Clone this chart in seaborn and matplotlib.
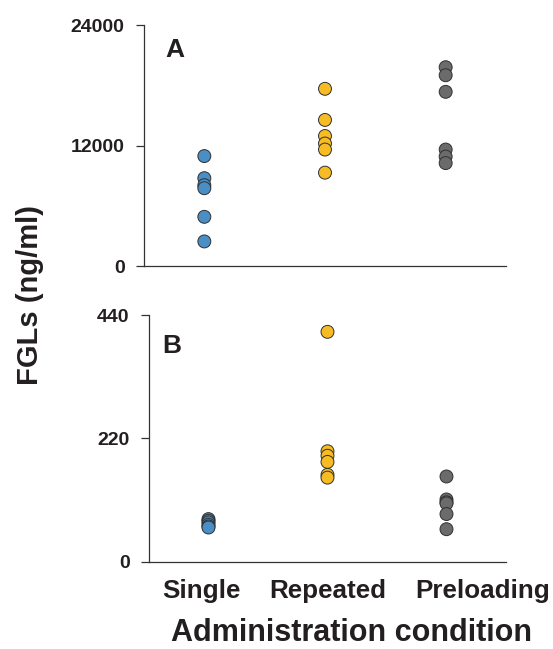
import pandas as pd
import seaborn as sns
import matplotlib.pyplot as plt
from matplotlib.transforms import ScaledTranslation

conditions = ['Single', 'Repeated', 'Preloading']
colors = ['#4a8ec6', '#f7bc23', '#6b6b6b']

# panel A (ng/ml)
single_a = [10950, 8750, 8050, 7750, 4900, 2450]
repeated_a = [17650, 14550, 12950, 12200, 11600, 9300]
preloading_a = [19800, 19000, 17350, 11600, 10900, 10250]

# panel B (ng/ml)
single_b = [76, 73, 70, 66, 63, 61]
repeated_b = [410, 197, 189, 178, 155, 150]
preloading_b = [152, 111, 106, 104, 85, 58]

yticks_a = [0, 12000, 24000]
yticks_b = [0, 220, 440]


def make_df(s, r, p):
    rows = []
    for cond, vals in zip(conditions, [s, r, p]):
        for v in vals:
            rows.append({'Condition': cond, 'FGL': v})
    return pd.DataFrame(rows)


df_a = make_df(single_a, repeated_a, preloading_a)
df_b = make_df(single_b, repeated_b, preloading_b)

sns.set_style('ticks')
plt.rcParams['font.family'] = ['Liberation Sans', 'DejaVu Sans']
plt.rcParams['font.weight'] = 'bold'
txt = '#231f20'

fig = plt.figure(figsize=(5.53, 6.49), dpi=100)
ax1 = fig.add_axes([0.2604, 0.5901, 0.6546, 0.3713])
ax2 = fig.add_axes([0.2694, 0.1345, 0.6456, 0.3801])

for ax, df, ticks in [(ax1, df_a, yticks_a), (ax2, df_b, yticks_b)]:
    sns.stripplot(data=df, x='Condition', y='FGL', hue='Condition', order=conditions,
                  hue_order=conditions, palette=colors, jitter=False, size=9.3,
                  linewidth=0.7, edgecolor='#303030', legend=False, ax=ax, zorder=3)
    ax.set_xlim(-0.5, 2.5)
    ax.set_ylim(ticks[0], ticks[-1])
    ax.set_yticks(ticks)
    ax.set_yticklabels([str(t) for t in ticks], fontsize=14, fontweight='bold', color=txt)
    ax.tick_params(axis='y', length=6, width=0.9, color='#333333', pad=8)
    ax.tick_params(axis='x', length=0)
    for s in ['top', 'right']:
        ax.spines[s].set_visible(False)
    for s in ['left', 'bottom']:
        ax.spines[s].set_linewidth(0.9)
        ax.spines[s].set_color('#333333')
    ax.set_xlabel('')
    ax.set_ylabel('')
    for c in ax.collections:
        c.set_clip_on(False)

ax1.set_xticklabels([])
ax2.set_xticks(range(3))
ax2.set_xticklabels(conditions, fontsize=18.7, fontweight='bold', color=txt)
ax2.tick_params(axis='x', pad=12.5)
# labels sit a little off-centre in the original
shifts = [-7, 0, 36]
for lab, dx in zip(ax2.get_xticklabels(), shifts):
    lab.set_transform(lab.get_transform() + ScaledTranslation(dx / 100, 0, fig.dpi_scale_trans))

ax1.text(0.058, 0.867, 'A', transform=ax1.transAxes, fontsize=19, fontweight='bold', color=txt)
ax2.text(0.036, 0.846, 'B', transform=ax2.transAxes, fontsize=19, fontweight='bold', color=txt)

fig.text(0.636, 0.0116, 'Administration condition', ha='center', va='baseline',
         fontsize=22, fontweight='bold', color=txt)
fig.text(0.054, 0.545, 'FGLs (ng/ml)', rotation=90, ha='center', va='center',
         fontsize=21, fontweight='bold', color=txt)

fig.savefig('out.png', dpi=100)
